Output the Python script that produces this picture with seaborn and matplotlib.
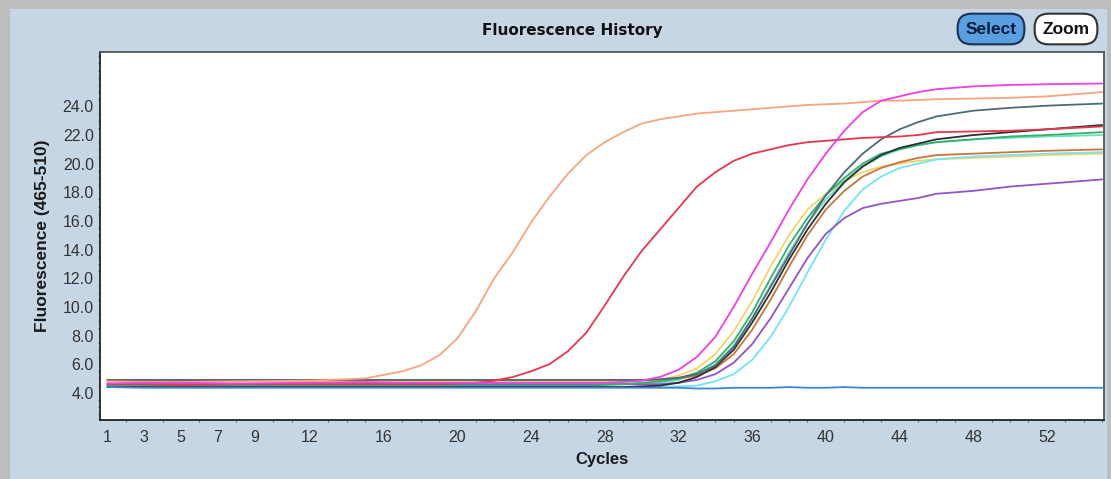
import matplotlib
matplotlib.use("Agg")
import pandas as pd
import matplotlib.pyplot as plt
import seaborn as sns
from matplotlib.patches import Rectangle
from matplotlib.ticker import MultipleLocator, FormatStrFormatter

# cycle grid the curves were read at
cycles = [1, 3, 5, 8, 12, 15, 17, 18, 19, 20, 21, 22, 23, 24, 25, 26, 27, 28, 29, 30,
          31, 32, 33, 34, 35, 36, 37, 38, 39, 40, 41, 42, 43, 44, 45, 46, 48, 50, 52, 55]

# fluorescence values, one list per sample
peach = [4.8, 4.75, 4.75, 4.8, 4.85, 5.0, 5.5, 5.9, 6.6, 7.8, 9.7, 12.0, 13.8, 15.9, 17.7, 19.3, 20.6, 21.5, 22.2, 22.8,
         23.1, 23.3, 23.5, 23.6, 23.7, 23.8, 23.9, 24.0, 24.1, 24.15, 24.2, 24.3, 24.4, 24.4, 24.45, 24.5, 24.55, 24.6, 24.7, 25.0]
red = [4.6, 4.6, 4.55, 4.6, 4.6, 4.6, 4.6, 4.6, 4.6, 4.65, 4.7, 4.85, 5.1, 5.5, 6.0, 6.9, 8.2, 10.1, 12.1, 13.9,
       15.4, 16.9, 18.4, 19.4, 20.2, 20.7, 21.0, 21.3, 21.5, 21.6, 21.7, 21.8, 21.85, 21.9, 22.0, 22.2, 22.25, 22.3, 22.4, 22.6]
magenta = [4.65, 4.7, 4.7, 4.65, 4.7, 4.75, 4.7, 4.7, 4.7, 4.7, 4.7, 4.7, 4.7, 4.7, 4.7, 4.7, 4.7, 4.7, 4.75, 4.85,
           5.1, 5.6, 6.5, 7.9, 10.0, 12.3, 14.5, 16.8, 18.9, 20.7, 22.3, 23.6, 24.4, 24.7, 25.0, 25.2, 25.4, 25.5, 25.55, 25.6]
slate = [4.9, 4.9, 4.9, 4.9, 4.9, 4.9, 4.9, 4.9, 4.9, 4.9, 4.9, 4.9, 4.9, 4.9, 4.9, 4.9, 4.9, 4.9, 4.9, 4.9,
         4.95, 5.05, 5.3, 5.9, 7.2, 9.2, 11.4, 13.6, 15.8, 17.8, 19.4, 20.7, 21.7, 22.4, 22.9, 23.3, 23.7, 23.9, 24.05, 24.2]
dark = [4.4, 4.4, 4.4, 4.4, 4.4, 4.4, 4.4, 4.4, 4.4, 4.4, 4.4, 4.4, 4.4, 4.4, 4.4, 4.4, 4.4, 4.4, 4.4, 4.45,
        4.5, 4.7, 5.1, 5.8, 7.0, 8.9, 11.0, 13.3, 15.4, 17.2, 18.7, 19.8, 20.6, 21.1, 21.4, 21.7, 22.0, 22.2, 22.4, 22.7]
green = [4.5, 4.5, 4.5, 4.5, 4.5, 4.5, 4.5, 4.5, 4.5, 4.5, 4.5, 4.5, 4.5, 4.5, 4.5, 4.5, 4.5, 4.55, 4.6, 4.7,
         4.8, 5.0, 5.4, 6.2, 7.6, 9.6, 12.0, 14.3, 16.2, 17.8, 19.0, 20.0, 20.7, 21.0, 21.3, 21.5, 21.7, 21.9, 22.0, 22.2]
teal = [4.6, 4.6, 4.6, 4.6, 4.6, 4.6, 4.6, 4.6, 4.6, 4.6, 4.6, 4.6, 4.6, 4.6, 4.6, 4.6, 4.6, 4.6, 4.6, 4.65,
        4.7, 4.9, 5.3, 6.0, 7.3, 9.2, 11.5, 13.8, 15.8, 17.5, 18.8, 19.8, 20.5, 21.0, 21.3, 21.5, 21.7, 21.8, 21.9, 22.0]
yellow = [4.8, 4.8, 4.8, 4.8, 4.8, 4.8, 4.8, 4.8, 4.8, 4.8, 4.8, 4.8, 4.8, 4.8, 4.8, 4.8, 4.8, 4.8, 4.8, 4.85,
          4.9, 5.2, 5.7, 6.7, 8.3, 10.4, 12.8, 15.0, 16.8, 17.9, 18.8, 19.4, 19.8, 20.0, 20.2, 20.3, 20.4, 20.5, 20.6, 20.7]
brown = [4.9, 4.9, 4.85, 4.9, 4.9, 4.9, 4.9, 4.9, 4.9, 4.9, 4.9, 4.9, 4.9, 4.9, 4.9, 4.9, 4.9, 4.9, 4.9, 4.9,
         4.9, 5.0, 5.2, 5.7, 6.7, 8.4, 10.5, 12.8, 15.0, 16.8, 18.1, 19.1, 19.7, 20.1, 20.4, 20.6, 20.7, 20.8, 20.9, 21.0]
purple = [4.6, 4.6, 4.6, 4.6, 4.6, 4.6, 4.6, 4.6, 4.6, 4.6, 4.6, 4.6, 4.6, 4.6, 4.6, 4.6, 4.6, 4.6, 4.6, 4.6,
          4.6, 4.7, 4.9, 5.3, 6.1, 7.4, 9.2, 11.3, 13.4, 15.1, 16.2, 16.9, 17.2, 17.4, 17.6, 17.9, 18.1, 18.4, 18.6, 18.9]
cyan = [4.4, 4.4, 4.4, 4.4, 4.4, 4.4, 4.4, 4.4, 4.4, 4.4, 4.4, 4.4, 4.4, 4.4, 4.4, 4.4, 4.4, 4.4, 4.4, 4.4,
        4.4, 4.45, 4.5, 4.8, 5.3, 6.3, 7.9, 10.0, 12.4, 14.7, 16.7, 18.2, 19.1, 19.7, 20.0, 20.3, 20.5, 20.6, 20.7, 20.8]
blue = [4.4, 4.35, 4.35, 4.35, 4.35, 4.35, 4.35, 4.35, 4.35, 4.35, 4.35, 4.35, 4.35, 4.35, 4.35, 4.35, 4.35, 4.35, 4.35, 4.35,
        4.35, 4.35, 4.3, 4.3, 4.35, 4.35, 4.35, 4.4, 4.35, 4.35, 4.4, 4.35, 4.35, 4.35, 4.35, 4.35, 4.35, 4.35, 4.35, 4.35]

xtick_labels = [1, 3, 5, 7, 9, 12, 16, 20, 24, 28, 32, 36, 40, 44, 48, 52]
ytick_labels = [4, 6, 8, 10, 12, 14, 16, 18, 20, 22, 24]

# drawing order (back to front) and colours
order = ["yellow", "teal", "cyan", "purple", "brown", "green", "dark", "slate", "red", "peach", "magenta", "blue"]
series = [yellow, teal, cyan, purple, brown, green, dark, slate, red, peach, magenta, blue]
palette = {"yellow": "#f2d36b", "teal": "#6fdcc0", "cyan": "#74e4f2", "purple": "#9353c6",
           "brown": "#c8743c", "green": "#2fb36b", "dark": "#2e2e2e", "slate": "#4f6a78",
           "red": "#e8364e", "peach": "#f6a57c", "magenta": "#f13fe0", "blue": "#3d86d6"}

df = pd.concat([pd.DataFrame({"Cycle": cycles, "Fluorescence": vals, "Sample": name})
                for name, vals in zip(order, series)], ignore_index=True)

sns.set_style("white")
plt.rcParams["font.family"] = ["Liberation Sans", "DejaVu Sans"]

W, H = 1111, 479
fig = plt.figure(figsize=(W / 100, H / 100), dpi=100, facecolor="#bdbdbd")
# blue panel behind everything
fig.patches.append(Rectangle((10 / W, 0), 1097 / W, 470 / H, transform=fig.transFigure,
                             facecolor="#c6d6e4", edgecolor="none", zorder=-10))

ax = fig.add_axes([100 / W, 59 / H, 1004 / W, 368 / H])
ax.set_zorder(5)
ax.set_facecolor("white")

sns.lineplot(data=df, x="Cycle", y="Fluorescence", hue="Sample", hue_order=order,
             palette=palette, estimator=None, legend=False, linewidth=1.3, ax=ax)

ax.set_xlim(0.6, 55.1)
ax.set_ylim(2.1, 27.8)
ax.set_xticks(xtick_labels)
ax.set_xticklabels([str(v) for v in xtick_labels])
ax.xaxis.set_minor_locator(MultipleLocator(1))
ax.set_yticks(ytick_labels)
ax.yaxis.set_major_formatter(FormatStrFormatter("%.1f"))
ax.yaxis.set_minor_locator(MultipleLocator(0.5))

ax.tick_params(axis="x", which="major", direction="out", length=4, width=1, pad=3,
               labelsize=11.5, labelcolor="#333333", color="#444444")
ax.tick_params(axis="y", which="major", direction="out", length=3, width=1, pad=1.5,
               labelsize=11.5, labelcolor="#333333", color="#444444")
ax.tick_params(which="minor", direction="out", length=1.5, width=0.8, color="#666666",
               bottom=True, left=True)

for side in ["left", "bottom"]:
    ax.spines[side].set_color("#222222")
    ax.spines[side].set_linewidth(1.3)
for side in ["top", "right"]:
    ax.spines[side].set_color("#555555")
    ax.spines[side].set_linewidth(1.3)

ax.set_xlabel("Cycles", fontsize=12, fontweight="bold", color="#1a1a1a")
ax.xaxis.set_label_coords(0.5, -0.087)
ax.set_ylabel("Fluorescence (465-510)", fontsize=12.5, fontweight="bold", color="#1a1a1a")
ax.yaxis.set_label_coords(-0.05, 0.5)

fig.text(572 / W, 1 - 30 / H, "Fluorescence History", fontsize=11, fontweight="bold",
         family=["DejaVu Sans"], color="#111111", ha="center", va="center")

# the two buttons in the header
fig.text(991 / W, 1 - 29 / H, "Select", fontsize=12.5, fontweight="bold", color="#0c1c3c",
         ha="center", va="center",
         bbox=dict(boxstyle="round,pad=0.45,rounding_size=0.8", fc="#5a9fe0", ec="#1c2f55", lw=1.5))
fig.text(1066 / W, 1 - 29 / H, "Zoom", fontsize=12.5, fontweight="bold", color="#111111",
         ha="center", va="center",
         bbox=dict(boxstyle="round,pad=0.45,rounding_size=0.8", fc="white", ec="#333333", lw=1.5))

fig.savefig("out.png", dpi=100, facecolor=fig.get_facecolor())
